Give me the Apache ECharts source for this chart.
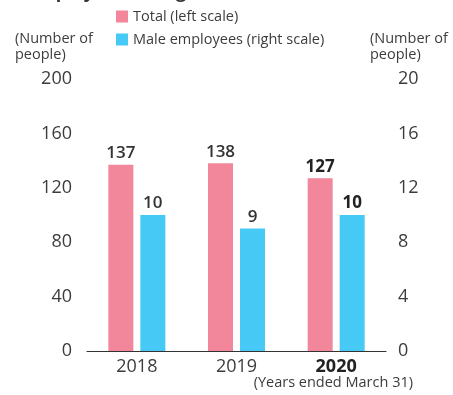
<!DOCTYPE html>
<html>
<head>
<meta charset="utf-8">
<script src="https://cdn.jsdelivr.net/npm/echarts@6/dist/echarts.min.js"></script>
<style>
  html, body { margin: 0; padding: 0; background: #fff; }
  #chart { width: 453px; height: 395px; }
</style>
</head>
<body>
<div id="chart"></div>
<script>
// Fiscal years (ended March 31)
const years = ['2018', '2019', '2020'];
// Employees taking childcare leave: total (left axis) and male (right axis)
const totalLeave = [137, 138, 127];
const maleLeave = [10, 9, 10];
const leftTicks = { min: 0, max: 200, interval: 40 };
const rightTicks = { min: 0, max: 20, interval: 4 };
const latestYear = '2020';

const FONT = '"Open Sans", "Noto Sans", sans-serif';
const TEXT = '#3c3c3c';
const PINK = '#F2879B';
const BLUE = '#47C9F5';

const chart = echarts.init(document.getElementById('chart'), null, { renderer: 'canvas' });

function valueLabel() {
  return {
    show: true,
    position: 'top',
    distance: 3,
    fontFamily: FONT,
    fontSize: 17,
    fontWeight: 600,
    color: '#333',
    formatter: p => (p.name === latestYear ? '{b|' + p.value + '}' : String(p.value)),
    rich: { b: { fontFamily: FONT, fontSize: 17, fontWeight: 700, color: '#222' } }
  };
}

function tickLabel(margin) {
  return {
    margin: margin,
    fontFamily: FONT,
    fontSize: 18,
    color: TEXT,
    verticalAlign: 'middle',
    padding: [0, 0, 6, 0]
  };
}

chart.setOption({
  animation: false,
  textStyle: { fontFamily: FONT },
  legend: {
    orient: 'vertical',
    left: 116,
    top: 9,
    padding: 0,
    itemWidth: 12,
    itemHeight: 12,
    itemGap: 8,
    icon: 'rect',
    textStyle: { fontFamily: FONT, fontSize: 14.5, color: TEXT },
    data: ['Total (left scale)', 'Male employees (right scale)']
  },
  grid: { left: 87, right: 67, top: 79, bottom: 44 },
  xAxis: {
    type: 'category',
    data: years,
    axisLine: { lineStyle: { color: '#333', width: 1.2 } },
    axisTick: { show: false },
    axisLabel: {
      margin: 7,
      fontFamily: FONT,
      fontSize: 18,
      color: TEXT,
      formatter: v => (v === latestYear ? '{b|' + v + '}' : v),
      rich: { b: { fontFamily: FONT, fontSize: 18, fontWeight: 700, color: '#222' } }
    }
  },
  yAxis: [
    {
      type: 'value',
      min: leftTicks.min, max: leftTicks.max, interval: leftTicks.interval,
      splitLine: { show: false },
      axisLine: { show: false },
      axisTick: { show: false },
      axisLabel: tickLabel(15)
    },
    {
      type: 'value',
      min: rightTicks.min, max: rightTicks.max, interval: rightTicks.interval,
      splitLine: { show: false },
      axisLine: { show: false },
      axisTick: { show: false },
      axisLabel: tickLabel(12)
    }
  ],
  series: [
    {
      name: 'Total (left scale)',
      type: 'bar',
      yAxisIndex: 0,
      data: totalLeave,
      barWidth: 25,
      barGap: '28%',
      itemStyle: { color: PINK },
      label: valueLabel()
    },
    {
      name: 'Male employees (right scale)',
      type: 'bar',
      yAxisIndex: 1,
      data: maleLeave,
      barWidth: 25,
      itemStyle: { color: BLUE },
      label: valueLabel()
    }
  ],
  graphic: [
    {
      type: 'text', left: 28, top: -16,
      style: { text: 'Employees taking childcare leave', font: '700 18px ' + FONT, fill: '#333' }
    },
    {
      type: 'text', left: 15, top: 31,
      style: { text: '(Number of\npeople)', font: '14.5px ' + FONT, fill: TEXT, lineHeight: 16 }
    },
    {
      type: 'text', left: 370, top: 31,
      style: { text: '(Number of\npeople)', font: '14.5px ' + FONT, fill: TEXT, lineHeight: 16 }
    },
    {
      type: 'text', right: 40, top: 375,
      style: { text: '(Years ended March 31)', font: '14.5px ' + FONT, fill: TEXT }
    }
  ]
});
</script>
</body>
</html>
